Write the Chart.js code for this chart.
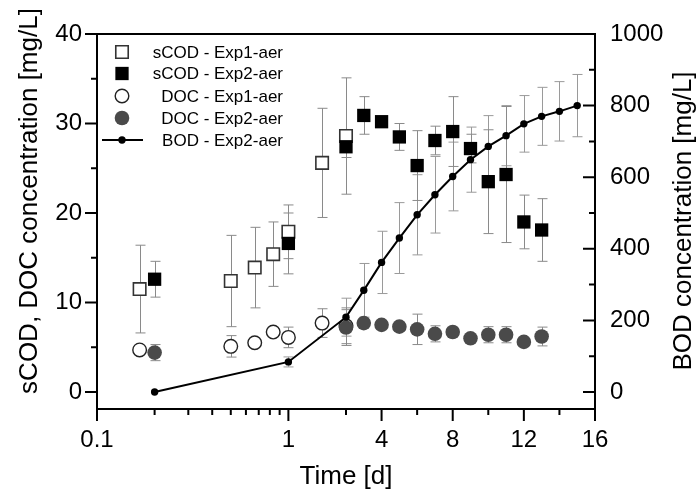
<!DOCTYPE html>
<html>
<head>
<meta charset="utf-8">
<title>sCOD, DOC and BOD over time</title>
<script src="https://cdn.jsdelivr.net/npm/chart.js@4.4.1/dist/chart.umd.min.js"></script>
<style>
  html, body { margin: 0; padding: 0; background: #fff; }
  #wrap { width: 698px; height: 492px; }
</style>
</head>
<body>
<div id="wrap"><canvas id="chart" width="698" height="492"></canvas></div>
<script>
// values, time in days
const sCodTime1 = [0.167, 0.5, 0.667, 0.833, 1, 1.5, 2];
const sCodExp1  = [11.5, 12.4, 13.9, 15.4, 17.9, 25.6, 28.6];
const sCodErr1  = [4.9, 5.1, 4.5, 3.6, 3.0, 6.1, 6.5];

const sCodTime2 = [0.2, 1, 2, 3, 4, 5, 6, 7, 8, 9, 10, 11, 12, 13];
const sCodExp2  = [12.6, 16.6, 27.4, 30.9, 30.2, 28.5, 25.3, 28.1, 29.1, 27.2, 23.5, 24.3, 19.0, 18.1];
const sCodErr2  = [2.0, 3.4, 1.2, 2.1, 0.4, 1.5, 3.9, 1.6, 3.9, 1.6, 5.8, 7.6, 3.0, 3.5];

const docTime1 = [0.167, 0.5, 0.667, 0.833, 1, 1.5, 2];
const docExp1  = [4.7, 5.1, 5.5, 6.7, 6.1, 7.7, 7.4];
const docErr1  = [0.4, 1.2, 0.3, 0.4, 1.15, 1.6, 2.0];

const docTime2 = [0.2, 2, 3, 4, 5, 6, 7, 8, 9, 10, 11, 12, 13];
const docExp2  = [4.4, 7.2, 7.7, 7.5, 7.3, 7.0, 6.5, 6.7, 6.0, 6.4, 6.4, 5.6, 6.2];
const docErr2  = [0.9, 2.0, 0.3, 0.3, 0.3, 1.7, 0.9, 0.3, 0.3, 0.9, 0.9, 0.3, 1.05];

const bodTime = [0.2, 1, 2, 3, 4, 5, 6, 7, 8, 9, 10, 11, 12, 13, 14, 15];
const bodExp2 = [0, 84, 209, 284, 362, 430, 495, 551, 602, 649, 686, 716, 749, 770, 784, 800];
const bodErr  = [0, 14, 53, 75, 87, 99, 112, 107, 96, 91, 86, 84, 79, 81, 83, 87];

const xMajorTicks = [0.1, 1, 4, 8, 12, 16];
const xMinorTicks = [0.2, 0.3, 0.4, 0.5, 0.6, 0.7, 0.8, 0.9, 2, 6, 10, 14];
const yLeftTicks  = [0, 10, 20, 30, 40];
const yLeftMinor  = [5, 15, 25, 35];
const yRightTicks = [0, 200, 400, 600, 800, 1000];
const yRightMinor = [100, 300, 500, 700, 900];

const xTitle = 'Time [d]';
const yLeftTitle = 'sCOD, DOC concentration [mg/L]';
const yRightTitle = 'BOD concentration [mg/L]';

const FONT = "Arial, 'Liberation Sans', sans-serif";
const X_BREAK = 2; // log axis up to here, linear after

// x axis: log from min to X_BREAK on the left half, linear to max on the right half
class BrokenLogScale extends Chart.LinearScale {
  static id = 'brokenlog';
  static defaults = {};
  buildTicks() {
    return xMajorTicks.map(v => ({ value: v }));
  }
  toDecimal(v) {
    const lo = Math.log10(this.min), brk = Math.log10(X_BREAK);
    if (v <= X_BREAK) return 0.5 * (Math.log10(v) - lo) / (brk - lo);
    return 0.5 + 0.5 * (v - X_BREAK) / (this.max - X_BREAK);
  }
  getPixelForValue(v) {
    return this.getPixelForDecimal(this.toDecimal(v));
  }
  getValueForPixel(p) {
    const d = this.getDecimalForPixel(p);
    const lo = Math.log10(this.min), brk = Math.log10(X_BREAK);
    if (d <= 0.5) return Math.pow(10, lo + d * 2 * (brk - lo));
    return X_BREAK + (d - 0.5) * 2 * (this.max - X_BREAK);
  }
}
Chart.register(BrokenLogScale);

const pts = (xs, ys) => xs.map((x, i) => ({ x: x, y: ys[i] }));

// whiskers, drawn behind the markers
const errorBars = {
  id: 'errorBars',
  beforeDatasetsDraw(chart) {
    const ctx = chart.ctx, area = chart.chartArea;
    ctx.save();
    ctx.beginPath();
    ctx.rect(area.left, area.top, area.right - area.left, area.bottom - area.top);
    ctx.clip();
    chart.data.datasets.forEach((ds, i) => {
      if (!ds.errors) return;
      const meta = chart.getDatasetMeta(i);
      const ys = chart.scales[ds.yAxisID];
      ctx.strokeStyle = ds.errorColor || '#999';
      ctx.lineWidth = 1;
      meta.data.forEach((el, j) => {
        const e = ds.errors[j];
        if (!e) return;
        const x = Math.round(el.x) + 0.5;
        const v = ds.data[j].y;
        const top = ys.getPixelForValue(v + e);
        const bot = ys.getPixelForValue(v - e);
        ctx.beginPath();
        ctx.moveTo(x, top); ctx.lineTo(x, bot);
        ctx.moveTo(x - 5, top); ctx.lineTo(x + 5, top);
        ctx.moveTo(x - 5, bot); ctx.lineTo(x + 5, bot);
        ctx.stroke();
      });
    });
    ctx.restore();
  }
};

// frame, tick marks, axis titles and legend
const frame = {
  id: 'frame',
  afterDraw(chart) {
    const ctx = chart.ctx, a = chart.chartArea;
    const sx = chart.scales.x, sl = chart.scales.y, sr = chart.scales.y2;
    ctx.save();
    ctx.strokeStyle = '#000';
    ctx.lineWidth = 2;
    ctx.strokeRect(a.left, a.top, a.right - a.left, a.bottom - a.top);

    ctx.beginPath();
    xMajorTicks.forEach(v => { const p = sx.getPixelForValue(v); ctx.moveTo(p, a.bottom); ctx.lineTo(p, a.bottom + 12); });
    xMinorTicks.forEach(v => { const p = sx.getPixelForValue(v); ctx.moveTo(p, a.bottom); ctx.lineTo(p, a.bottom + 6); });
    yLeftTicks.forEach(v => { const p = sl.getPixelForValue(v); ctx.moveTo(a.left, p); ctx.lineTo(a.left - 12, p); });
    yLeftMinor.forEach(v => { const p = sl.getPixelForValue(v); ctx.moveTo(a.left, p); ctx.lineTo(a.left - 6, p); });
    yRightTicks.forEach(v => { const p = sr.getPixelForValue(v); ctx.moveTo(a.right, p); ctx.lineTo(a.right - 12, p); });
    yRightMinor.forEach(v => { const p = sr.getPixelForValue(v); ctx.moveTo(a.right, p); ctx.lineTo(a.right - 6, p); });
    ctx.stroke();

    ctx.fillStyle = '#000';
    ctx.font = '26px ' + FONT;
    ctx.textAlign = 'center';
    ctx.textBaseline = 'alphabetic';
    ctx.fillText(xTitle, (a.left + a.right) / 2, 484);
    ctx.save();
    ctx.translate(37, 201);
    ctx.rotate(-Math.PI / 2);
    ctx.fillText(yLeftTitle, 0, 0);
    ctx.restore();
    ctx.save();
    ctx.translate(691, 221);
    ctx.rotate(-Math.PI / 2);
    ctx.fillText(yRightTitle, 0, 0);
    ctx.restore();

    // legend
    const rows = [52, 73.5, 96, 118, 140];
    const mx = 122, textRight = 283;
    ctx.font = '17px ' + FONT;
    ctx.textAlign = 'right';
    chart.data.datasets.forEach(ds => {
      const y = rows[ds.legendRow];
      if (ds.showLine) {
        ctx.strokeStyle = ds.borderColor;
        ctx.lineWidth = ds.borderWidth;
        ctx.beginPath(); ctx.moveTo(mx - 20, y); ctx.lineTo(mx + 21, y); ctx.stroke();
      }
      ctx.fillStyle = ds.pointBackgroundColor;
      ctx.strokeStyle = ds.pointBorderColor;
      ctx.lineWidth = ds.pointBorderWidth;
      Chart.helpers.drawPoint(ctx, {
        pointStyle: ds.pointStyle, radius: ds.pointRadius, rotation: 0,
        borderWidth: ds.pointBorderWidth
      }, mx, y);
      ctx.fillStyle = '#000';
      ctx.fillText(ds.label, textRight, y + 5.5);
    });
    ctx.restore();
  }
};

new Chart(document.getElementById('chart'), {
  type: 'line',
  data: {
    datasets: [
      {
        label: 'BOD - Exp2-aer', data: pts(bodTime, bodExp2), errors: bodErr, errorColor: '#9a9a9a',
        yAxisID: 'y2', showLine: true, borderColor: '#000', borderWidth: 2, tension: 0,
        pointStyle: 'circle', pointRadius: 3.7, pointBackgroundColor: '#000', pointBorderColor: '#000',
        pointBorderWidth: 0, order: 0, legendRow: 4
      },
      {
        label: 'DOC - Exp2-aer', data: pts(docTime2, docExp2), errors: docErr2, errorColor: '#8a8a8a',
        yAxisID: 'y', showLine: false, pointStyle: 'circle', pointRadius: 7.3,
        pointBackgroundColor: '#4a4a4a', pointBorderColor: '#4a4a4a', pointBorderWidth: 0,
        order: 1, legendRow: 3
      },
      {
        label: 'sCOD - Exp2-aer', data: pts(sCodTime2, sCodExp2), errors: sCodErr2, errorColor: '#8a8a8a',
        yAxisID: 'y', showLine: false, pointStyle: 'rect', pointRadius: 9.4,
        pointBackgroundColor: '#000', pointBorderColor: '#000', pointBorderWidth: 0,
        order: 2, legendRow: 1
      },
      {
        label: 'DOC - Exp1-aer', data: pts(docTime1, docExp1), errors: docErr1, errorColor: '#8a8a8a',
        yAxisID: 'y', showLine: false, pointStyle: 'circle', pointRadius: 6.8,
        pointBackgroundColor: '#fff', pointBorderColor: '#222', pointBorderWidth: 1.4,
        order: 3, legendRow: 2
      },
      {
        label: 'sCOD - Exp1-aer', data: pts(sCodTime1, sCodExp1), errors: sCodErr1, errorColor: '#8a8a8a',
        yAxisID: 'y', showLine: false, pointStyle: 'rect', pointRadius: 8.8,
        pointBackgroundColor: '#fff', pointBorderColor: '#333', pointBorderWidth: 1.6,
        order: 4, legendRow: 0
      }
    ]
  },
  options: {
    responsive: false,
    animation: false,
    devicePixelRatio: 1,
    layout: { padding: { top: 34, left: 0, right: 0, bottom: 0 } },
    plugins: { legend: { display: false }, tooltip: { enabled: false } },
    scales: {
      x: {
        type: 'brokenlog', min: 0.1, max: 16,
        grid: { display: false, drawTicks: false }, border: { display: false },
        ticks: { autoSkip: false, maxRotation: 0, padding: 17, color: '#000',
                 font: { family: FONT, size: 24 }, callback: v => String(v) },
        afterFit: s => { s.height = 83; }
      },
      y: {
        position: 'left', min: -1.9, max: 40,
        grid: { display: false, drawTicks: false }, border: { display: false },
        afterBuildTicks: s => { s.ticks = yLeftTicks.map(v => ({ value: v })); },
        ticks: { padding: 15, color: '#000', font: { family: FONT, size: 24 }, callback: v => String(v) },
        afterFit: s => { s.width = 97; }
      },
      y2: {
        position: 'right', min: -47.5, max: 1000,
        grid: { display: false, drawTicks: false }, border: { display: false },
        afterBuildTicks: s => { s.ticks = yRightTicks.map(v => ({ value: v })); },
        ticks: { padding: 15, color: '#000', font: { family: FONT, size: 24 }, callback: v => String(v) },
        afterFit: s => { s.width = 103; }
      }
    }
  },
  plugins: [errorBars, frame]
});
</script>
</body>
</html>
